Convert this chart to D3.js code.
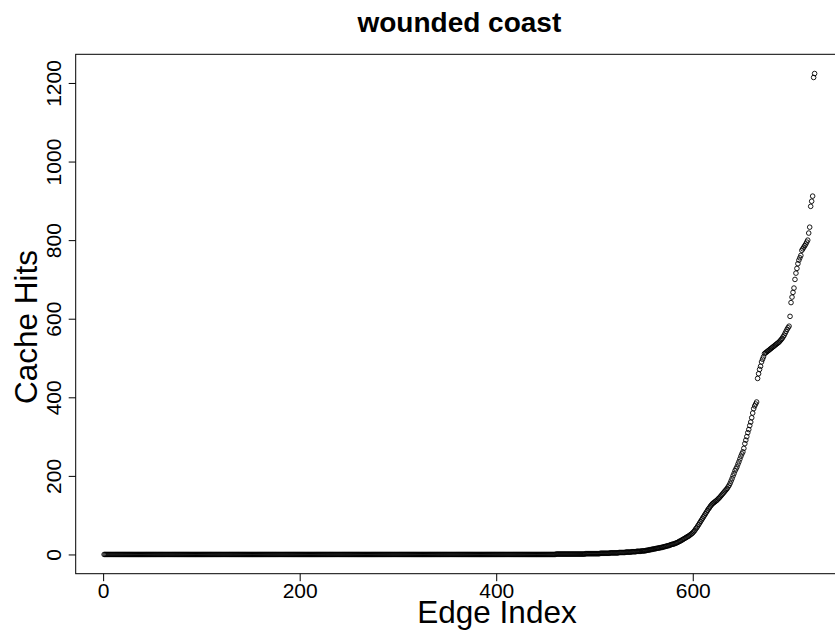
<!DOCTYPE html>
<html>
<head>
<meta charset="utf-8">
<script src="https://cdn.jsdelivr.net/npm/d3@7"></script>
<style>
  html, body { margin: 0; padding: 0; background: #fff; }
  svg { display: block; }
  text { font-family: "Liberation Sans", Arial, sans-serif; fill: #000; }
</style>
</head>
<body>
<script>
// ---- data ----
const chartTitle = "wounded coast";
const xLabel = "Edge Index";
const yLabel = "Cache Hits";
const xTicks = [0, 200, 400, 600];
const yTicks = [0, 200, 400, 600, 800, 1000, 1200];

// flat start of the sorted series as [value, count] runs (indices 1..551)
const flatRuns = [[0, 460], [1, 30], [2, 15], [3, 10], [4, 9], [5, 7], [6, 6], [7, 5], [8, 5], [9, 4]];

// remaining sorted values, indices 552..724
const tailHits = [
  10, 10, 11, 11,
  12, 12, 13, 13, 14,
  14, 15, 15, 16, 16, 17, 17, 18, 18, 19,
  20, 20, 21, 22, 22, 23, 24, 25, 26, 26,
  27, 28, 29, 30, 31, 33, 34, 35, 37, 38,
  40, 41, 43, 44, 46, 47, 49, 51, 53, 55,
  58, 61, 65, 68, 72, 76, 80, 84, 88, 92,
  96, 100, 104, 108, 112, 116, 119, 123, 126, 129,
  131, 133, 135, 137, 139, 142, 144, 147, 150, 153,
  156, 159, 162, 165, 168,
  172, 176, 181, 187, 193, 200, 206, 213, 218, 223,
  230, 236, 243, 250, 256, 261, 270, 282, 291, 300,
  310, 318, 328, 337, 348, 360, 371, 378, 383, 388,
  448, 460, 471, 479, 490, 497, 503, 511,
  513, 515, 517, 519, 521, 523, 525, 527, 529, 531, 533, 535, 537, 539, 541, 544, 547, 550,
  554, 558, 563, 568, 573, 577, 581,
  606, 641, 655, 667, 678, 700, 716, 728, 740, 749, 755, 761,
  774, 778, 782, 786, 790, 795, 800, 818, 833, 886, 899, 912, 1214, 1224
];

// ---- build series ----
const hits = [];
flatRuns.forEach(([v, n]) => { for (let k = 0; k < n; k++) hits.push(v); });
tailHits.forEach(v => hits.push(v));
const points = hits.map((v, i) => ({ idx: i + 1, v }));

// ---- layout ----
const W = 835, H = 634;
const plotL = 75.7, plotT = 54.3, plotB = 573.7;
const pxPerX = 0.9827;

const n = points.length;
const xPad = 0.04 * (n - 1);
const xDom = [1 - xPad, n + xPad];
const plotR = plotL + (xDom[1] - xDom[0]) * pxPerX;

const yMax = d3.max(hits), yMin = d3.min(hits);
const yPad = 0.04 * (yMax - yMin);

const x = d3.scaleLinear().domain(xDom).range([plotL, plotR]);
const y = d3.scaleLinear().domain([yMin - yPad, yMax + yPad]).range([plotB, plotT]);

const svg = d3.select("body").append("svg").attr("width", W).attr("height", H);

// points
svg.append("g")
  .selectAll("circle")
  .data(points)
  .join("circle")
  .attr("cx", d => x(d.idx))
  .attr("cy", d => y(d.v))
  .attr("r", 2.3)
  .attr("fill", "none")
  .attr("stroke", "#000")
  .attr("stroke-width", 0.9);

// box
svg.append("rect")
  .attr("x", plotL).attr("y", plotT)
  .attr("width", plotR - plotL).attr("height", plotB - plotT)
  .attr("fill", "none").attr("stroke", "#000").attr("stroke-width", 1);

// x axis
const xAxis = d3.axisBottom(x).tickValues(xTicks).tickSize(7.5).tickPadding(3).tickFormat(d3.format("d"));
const gx = svg.append("g").attr("transform", `translate(0,${plotB})`).call(xAxis);
gx.select(".domain").remove();
gx.selectAll("line").attr("stroke", "#000");
gx.selectAll("text").style("font-size", "21px").attr("fill", "#000")
  .attr("dy", null).attr("y", 24.5);

// y axis
const yAxis = d3.axisLeft(y).tickValues(yTicks).tickSize(7).tickFormat(d3.format("d"));
const gy = svg.append("g").attr("transform", `translate(${plotL},0)`).call(yAxis);
gy.select(".domain").remove();
gy.selectAll("line").attr("stroke", "#000");
gy.selectAll("text")
  .style("font-size", "21px").attr("fill", "#000")
  .attr("x", null).attr("dy", null)
  .attr("text-anchor", "middle")
  .attr("transform", "translate(-15,0) rotate(-90)");

// title
svg.append("text")
  .attr("x", (plotL + plotR) / 2).attr("y", 31.7)
  .attr("text-anchor", "middle")
  .style("font-size", "28px").style("font-weight", "bold")
  .text(chartTitle);

// axis labels
svg.append("text")
  .attr("x", 497).attr("y", 623)
  .attr("text-anchor", "middle")
  .style("font-size", "31.5px")
  .text(xLabel);

svg.append("text")
  .attr("transform", `translate(37,327) rotate(-90)`)
  .attr("text-anchor", "middle")
  .style("font-size", "31.5px")
  .text(yLabel);
</script>
</body>
</html>
